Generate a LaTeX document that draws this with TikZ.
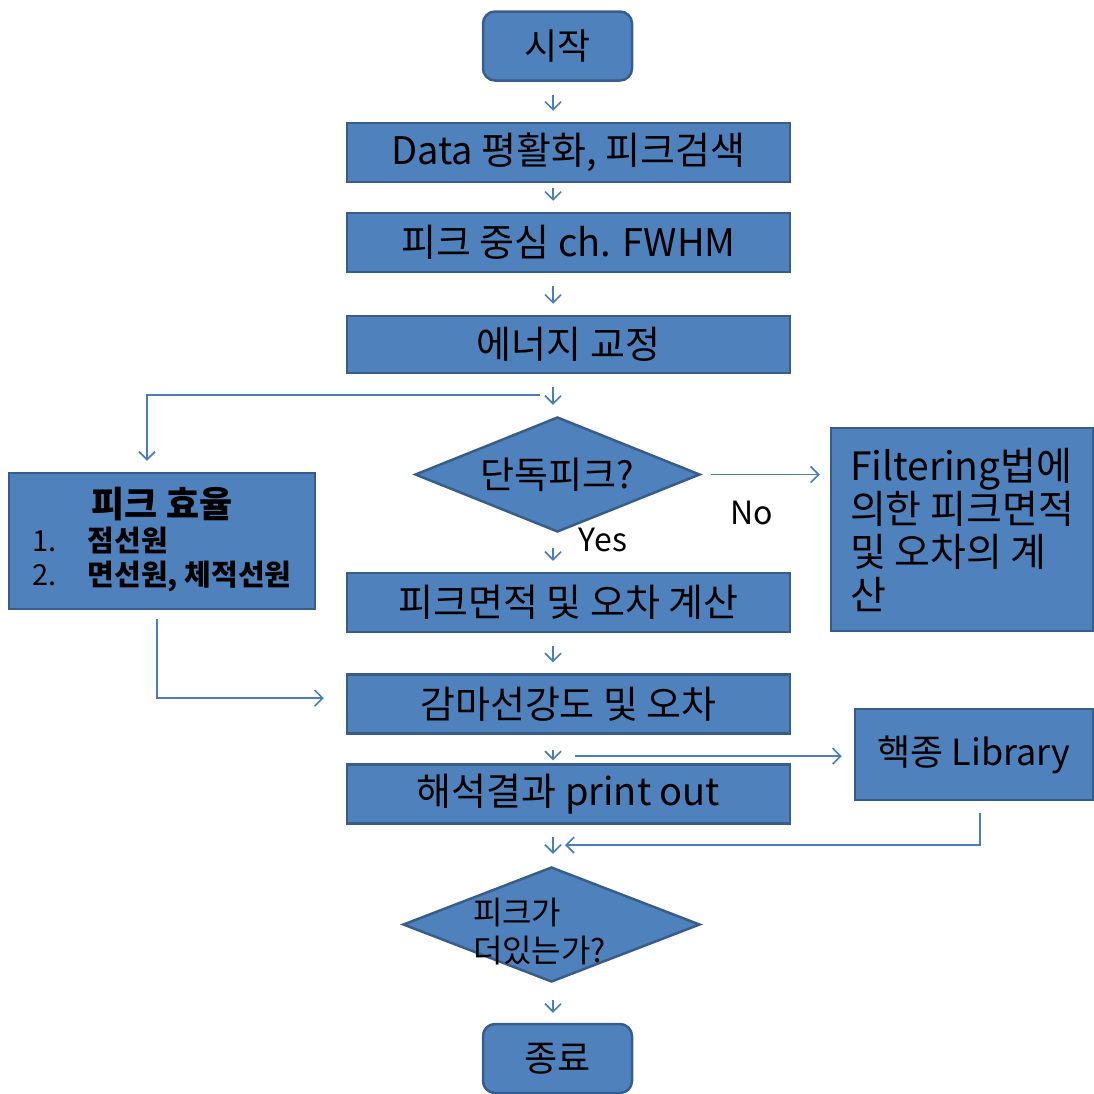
\documentclass[tikz,border=0pt]{standalone}
\usepackage{fontspec}
\setmainfont{Noto Sans CJK KR}
\usetikzlibrary{shapes.geometric,arrows.meta,positioning}
\definecolor{boxfill}{HTML}{4F81BD}
\definecolor{boxline}{HTML}{385D8A}
\definecolor{arrline}{HTML}{4A7EBB}

\begin{document}
\begin{tikzpicture}[x=1pt,y=-1pt,>={Straight Barb[length=8pt,width=16pt]},
    main node/.style={rectangle,draw=boxline,fill=boxfill,line width=2.5pt,inner sep=0pt,minimum width=443,minimum height=59,font=\fontsize{38}{44}\selectfont},
    side node/.style={rectangle,draw=boxline,fill=boxfill,line width=2.5pt,inner sep=0pt,font=\fontsize{36}{43}\selectfont},
    end node/.style={rectangle,rounded corners=12pt,draw=boxline,fill=boxfill,line width=2.5pt,inner sep=0pt,minimum width=149,minimum height=69,font=\fontsize{36}{42}\selectfont},
    test node/.style={diamond,aspect=2.5,draw=boxline,fill=boxfill,line width=2.5pt,inner sep=0pt,minimum height=115,font=\fontsize{37}{42}\selectfont},
    line/.style={->,draw=arrline,line width=1.6pt,shorten <=13pt,shorten >=11pt},
    tag/.style={font=\fontsize{32}{36}\selectfont}]
    \useasboundingbox (0,0) rectangle (1094,1093);

    \node[end node] (1) at (557.5,46) {시작};
    \node[main node] (2) at (568.5,152.5) {Data 평활화, 피크검색};
    \node[main node] (3) at (568.5,242.5) {피크 중심 ch. FWHM};
    \node[main node,minimum height=57] (4) at (568.5,344.5) {에너지 교정};
    \node[test node,minimum width=285] (5) at (557.5,474.5) {단독피크?};
    \node[side node,minimum width=262,minimum height=203,align=left,font=\fontsize{39}{43}\selectfont] (6) at (962,529.5) {Filtering법에\\의한 피크면적\\및 오차의 계\\산};
    \node[side node,minimum width=306,minimum height=136,font=\fontsize{29}{31}\selectfont] (7) at (162,541)
        {\begin{tabular}{@{}l@{\hspace{31pt}}l@{}}\multicolumn{2}{c}{\fontsize{36}{40}\selectfont\bfseries 피크 효율}\\ 1. & \bfseries 점선원\\ 2. & \bfseries 면선원, 체적선원\end{tabular}};
    \node[main node] (8) at (568.5,602.5) {피크면적 및 오차 계산};
    \node[main node] (9) at (568.5,704) {감마선강도 및 오차};
    \node[main node] (10) at (568.5,794) {해석결과 print out};
    \node[side node,minimum width=238,minimum height=91] (11) at (974,754.5) {핵종 Library};
    \node[test node,minimum width=297,font=\fontsize{32}{38}\selectfont] (12) at (551.5,924.5)
        {\makebox[0pt]{\smash{\begin{tabular}[t]{@{}l@{}}피크가\\더있는가?\end{tabular}}\hspace{24pt}}};
    \node[end node] (13) at (557.5,1058.5) {종료};

    \coordinate (ax) at (553,0);
    \coordinate (spl) at (540,395);
    \coordinate (tap) at (575,756);
    \coordinate (mrg) at (565,845);

    \path[every edge/.style={line},every node/.style={tag}]
        (1.south -| ax) edge (2.north -| ax)
        (2.south -| ax) edge[shorten <=5pt] (3.north -| ax)
        (3.south -| ax) edge (4.north -| ax)
        (4.south -| ax) edge (5.north -| ax)
        (5.east) edge[shorten <=10pt,shorten >=10pt] node[pos=.39,yshift=-38pt] {No} (5.east -| 6.west)
        (5.south -| ax) edge[shorten <=15pt] node[pos=0,xshift=50pt,yshift=-7pt] {Yes} (8.north -| ax)
        (8.south -| ax) edge (9.north -| ax)
        (9.south -| ax) edge[shorten <=15pt,shorten >=3pt] (10.north -| ax)
        (10.south -| ax) edge[shorten <=12pt,shorten >=12pt] (12.north -| ax)
        (12.south -| ax) edge[shorten <=17pt,shorten >=10pt] (13.north -| ax)
        ;
    \draw[line,shorten <=0pt] (spl) -| ([xshift=-15pt]7.north);
    \draw[line,shorten <=9pt,shorten >=22pt] ([xshift=-5pt]7.south) |- ([yshift=6pt]9.west);
    \draw[line,shorten <=0pt,shorten >=12pt] (tap) -- (tap -| 11.west);
    \draw[line,shorten <=12pt,shorten >=0pt] ([xshift=6pt]11.south) |- (mrg);
\end{tikzpicture}
\end{document}
